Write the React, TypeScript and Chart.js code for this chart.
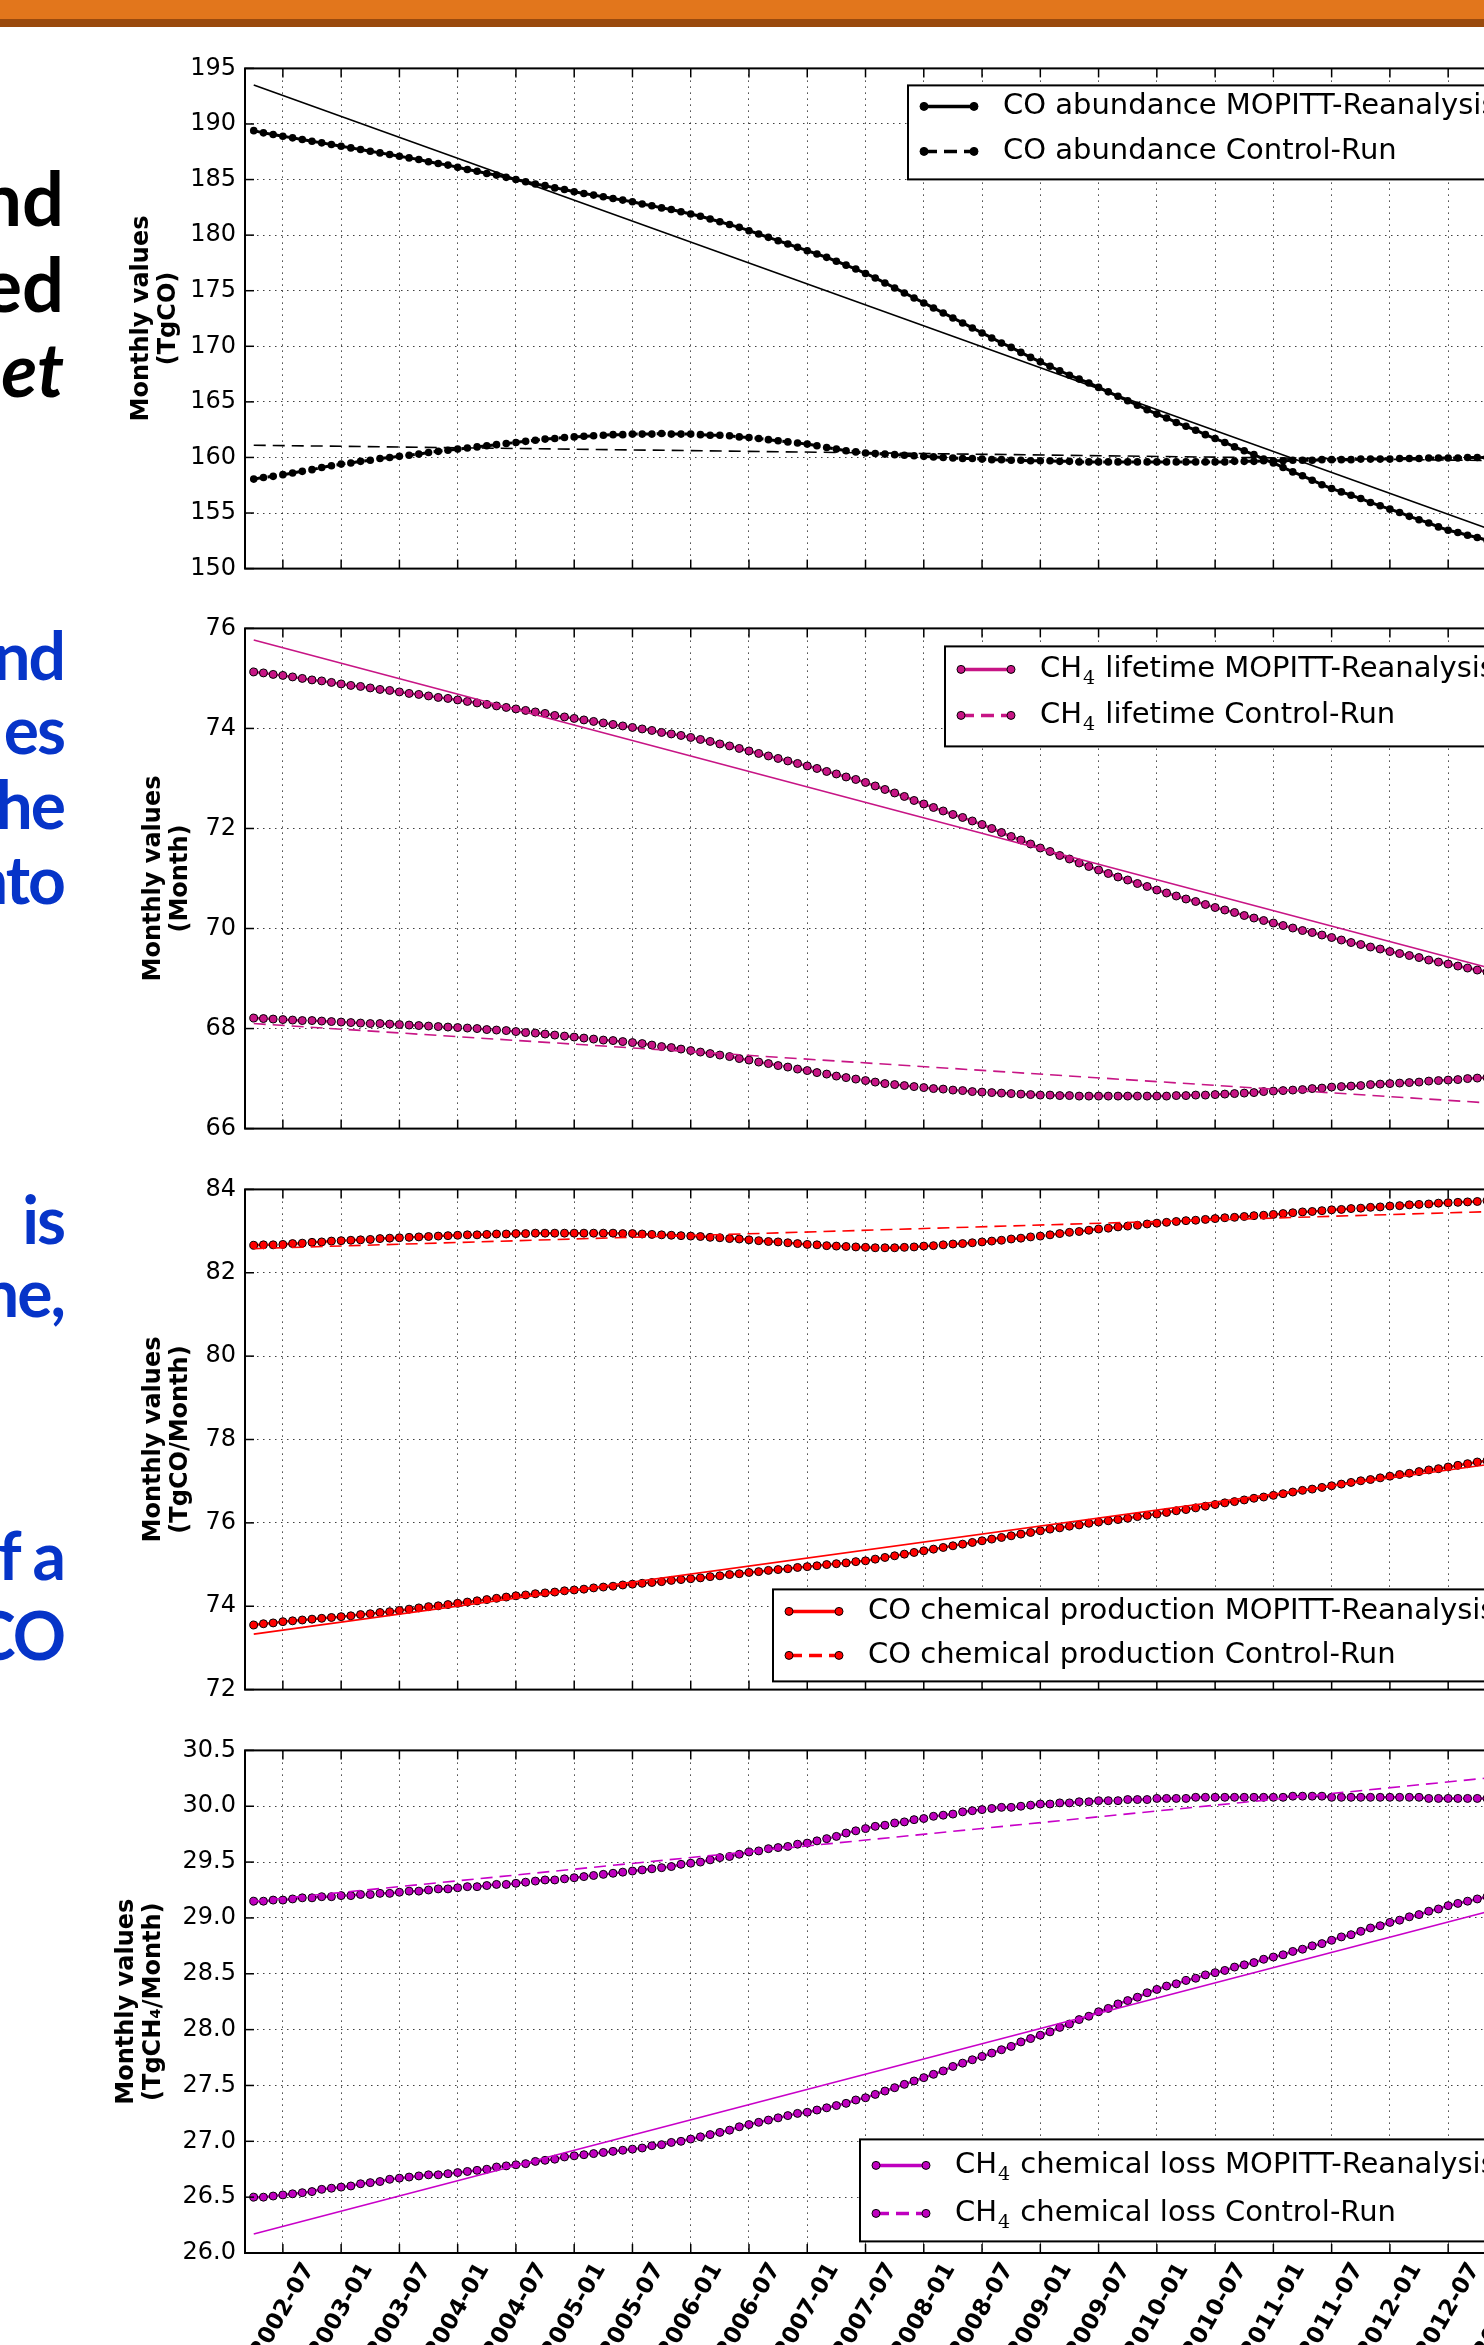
import React, { useEffect, useRef } from "react";
import { Chart, registerables } from "chart.js";

Chart.register(...registerables);
Chart.defaults.font.family = '"DejaVu Sans", sans-serif';

// x values are months counted from 2002-01 (0 = 2002-01)
const START_MONTH = 3; // first monthly value: 2002-04
const X_MIN = 2.1;
const X_MAX = 133.5;
const TICK_MONTHS = [6, 12, 18, 24, 30, 36, 42, 48, 54, 60, 66, 72, 78, 84, 90, 96, 102, 108, 114, 120, 126, 132];
const TICK_LABELS = [
  "2002-07", "2003-01", "2003-07", "2004-01", "2004-07", "2005-01", "2005-07", "2006-01",
  "2006-07", "2007-01", "2007-07", "2008-01", "2008-07", "2009-01", "2009-07", "2010-01",
  "2010-07", "2011-01", "2011-07", "2012-01", "2012-07", "2013-01",
];
const TREND_MONTHS = [3, 132];

// ---- Panel 1: CO abundance (TgCO)
const CO_ABUND_MOPITT = [
  189.4, 189.2, 189.05, 188.9,
  188.75, 188.6, 188.45, 188.3, 188.15, 188.0,
  187.85, 187.7, 187.55, 187.4, 187.25, 187.1,
  186.95, 186.8, 186.6, 186.45, 186.3, 186.1,
  185.9, 185.75, 185.55, 185.4, 185.2, 185.0,
  184.8, 184.6, 184.45, 184.25, 184.1, 183.9,
  183.75, 183.6, 183.45, 183.3, 183.15, 183.0,
  182.8, 182.65, 182.45, 182.3, 182.1, 181.9,
  181.7, 181.45, 181.2, 180.95, 180.7, 180.4,
  180.1, 179.8, 179.5, 179.2, 178.9, 178.6,
  178.3, 178.0, 177.65, 177.3, 176.95, 176.55,
  176.15, 175.7, 175.25, 174.8, 174.35, 173.9,
  173.45, 173.0, 172.55, 172.1, 171.65, 171.2,
  170.75, 170.3, 169.9, 169.45, 169.0, 168.6,
  168.2, 167.8, 167.4, 167.05, 166.7, 166.3,
  165.9, 165.5, 165.1, 164.7, 164.3, 163.9,
  163.55, 163.15, 162.8, 162.45, 162.05, 161.7,
  161.35, 160.95, 160.6, 160.25, 159.85, 159.5,
  159.1, 158.7, 158.35, 157.95, 157.55, 157.2,
  156.9, 156.6, 156.3, 155.95, 155.65, 155.35,
  155.05, 154.7, 154.4, 154.1, 153.75, 153.45,
  153.25, 153.0, 152.8, 152.55, 152.35, 152.1,
];
const CO_ABUND_CONTROL = [
  158.05, 158.2, 158.3, 158.45,
  158.6, 158.75, 158.9, 159.1, 159.25, 159.4,
  159.5, 159.65, 159.75, 159.9, 160.0, 160.1,
  160.2, 160.3, 160.45, 160.55, 160.65, 160.75,
  160.85, 160.95, 161.05, 161.15, 161.25, 161.35,
  161.45, 161.55, 161.65, 161.7, 161.8, 161.85,
  161.9, 161.95, 162.0, 162.05, 162.05, 162.1,
  162.1, 162.1, 162.15, 162.1, 162.1, 162.1,
  162.05, 162.0, 162.0, 161.95, 161.85, 161.8,
  161.7, 161.6, 161.5, 161.4, 161.3, 161.2,
  161.05, 160.9, 160.75, 160.6, 160.5, 160.4,
  160.35, 160.3, 160.25, 160.2, 160.15, 160.1,
  160.05, 160.0, 159.95, 159.9, 159.9, 159.85,
  159.8, 159.8, 159.75, 159.75, 159.7, 159.7,
  159.7, 159.65, 159.65, 159.6, 159.6, 159.6,
  159.6, 159.6, 159.6, 159.6, 159.6, 159.6,
  159.6, 159.6, 159.6, 159.6, 159.6, 159.6,
  159.6, 159.65, 159.65, 159.65, 159.7, 159.7,
  159.7, 159.75, 159.75, 159.75, 159.8, 159.8,
  159.8, 159.8, 159.85, 159.85, 159.85, 159.85,
  159.9, 159.9, 159.9, 159.95, 159.95, 159.95,
  159.95, 160.0, 160.0, 160.0, 160.0, 160.0,
];
const CO_ABUND_MOPITT_TREND = [193.5, 153.0];
const CO_ABUND_CONTROL_TREND = [161.1, 159.7];

// ---- Panel 2: CH4 lifetime (Month)
const CH4_LIFE_MOPITT = [
  75.13, 75.11, 75.08, 75.06,
  75.03, 75.0, 74.97, 74.95, 74.92, 74.89,
  74.86, 74.84, 74.81, 74.78, 74.76, 74.73,
  74.7, 74.68, 74.65, 74.62, 74.6, 74.57,
  74.54, 74.51, 74.48, 74.45, 74.42, 74.39,
  74.36, 74.33, 74.3, 74.26, 74.23, 74.2,
  74.17, 74.14, 74.11, 74.08, 74.05, 74.02,
  73.99, 73.96, 73.92, 73.89, 73.86, 73.82,
  73.78, 73.74, 73.69, 73.65, 73.6, 73.55,
  73.5, 73.45, 73.4, 73.35, 73.3, 73.25,
  73.2, 73.14, 73.09, 73.03, 72.98, 72.92,
  72.85, 72.78, 72.71, 72.64, 72.56, 72.49,
  72.42, 72.35, 72.28, 72.22, 72.15, 72.08,
  72.0, 71.92, 71.84, 71.77, 71.69, 71.61,
  71.54, 71.46, 71.39, 71.31, 71.24, 71.17,
  71.1, 71.03, 70.97, 70.9, 70.84, 70.77,
  70.71, 70.65, 70.59, 70.54, 70.48, 70.42,
  70.37, 70.32, 70.26, 70.21, 70.16, 70.11,
  70.06, 70.01, 69.96, 69.92, 69.87, 69.82,
  69.77, 69.72, 69.68, 69.63, 69.59, 69.54,
  69.5, 69.46, 69.42, 69.37, 69.33, 69.29,
  69.25, 69.21, 69.17, 69.13, 69.1, 69.07,
];
const CH4_LIFE_CONTROL = [
  68.21, 68.2, 68.19, 68.18,
  68.17, 68.16, 68.16, 68.15, 68.14, 68.13,
  68.12, 68.11, 68.1, 68.1, 68.09, 68.08,
  68.07, 68.06, 68.05, 68.04, 68.03, 68.02,
  68.01, 68.0, 67.98, 67.97, 67.96, 67.94,
  67.92, 67.91, 67.89, 67.87, 67.85, 67.83,
  67.81, 67.79, 67.77, 67.76, 67.74, 67.72,
  67.7, 67.67, 67.64, 67.62, 67.59, 67.56,
  67.53, 67.5, 67.47, 67.44, 67.4, 67.37,
  67.33, 67.3, 67.26, 67.23, 67.19, 67.16,
  67.12, 67.09, 67.05, 67.02, 66.99, 66.96,
  66.93, 66.9, 66.88, 66.86, 66.84, 66.82,
  66.8, 66.79, 66.77, 66.76, 66.74, 66.73,
  66.72, 66.71, 66.7, 66.69, 66.68, 66.67,
  66.67, 66.66, 66.66, 66.65, 66.65, 66.65,
  66.65, 66.65, 66.65, 66.65, 66.65, 66.65,
  66.65, 66.66, 66.66, 66.67, 66.67, 66.68,
  66.69, 66.7, 66.71, 66.72, 66.74, 66.75,
  66.76, 66.77, 66.78, 66.8, 66.81, 66.83,
  66.84, 66.85, 66.86, 66.88, 66.89, 66.9,
  66.91, 66.92, 66.93, 66.95, 66.96, 66.97,
  66.98, 67.0, 67.01, 67.02, 67.04, 67.05,
];
const CH4_LIFE_MOPITT_TREND = [75.77, 69.12];
const CH4_LIFE_CONTROL_TREND = [68.1, 66.49];

// ---- Panel 3: CO chemical production (TgCO/Month)
const CO_PROD_MOPITT = [
  73.55, 73.58, 73.6, 73.63,
  73.65, 73.67, 73.69, 73.71, 73.73, 73.75,
  73.77, 73.8, 73.82, 73.85, 73.87, 73.9,
  73.93, 73.96, 73.99, 74.01, 74.04, 74.07,
  74.1, 74.13, 74.16, 74.19, 74.22, 74.25,
  74.27, 74.3, 74.32, 74.34, 74.37, 74.39,
  74.41, 74.44, 74.46, 74.48, 74.51, 74.53,
  74.55, 74.57, 74.59, 74.62, 74.64, 74.66,
  74.68, 74.71, 74.73, 74.76, 74.78, 74.81,
  74.83, 74.86, 74.88, 74.9, 74.93, 74.95,
  74.97, 75.0, 75.02, 75.04, 75.07, 75.09,
  75.13, 75.17, 75.21, 75.25, 75.29, 75.33,
  75.37, 75.41, 75.45, 75.49, 75.53, 75.57,
  75.61, 75.65, 75.69, 75.73, 75.77, 75.81,
  75.85, 75.88, 75.92, 75.95, 75.99, 76.02,
  76.05, 76.08, 76.11, 76.15, 76.18, 76.21,
  76.25, 76.29, 76.32, 76.36, 76.4, 76.44,
  76.48, 76.51, 76.55, 76.59, 76.62, 76.66,
  76.7, 76.74, 76.78, 76.81, 76.85, 76.89,
  76.93, 76.97, 77.01, 77.04, 77.08, 77.12,
  77.16, 77.19, 77.23, 77.27, 77.3, 77.34,
  77.38, 77.42, 77.46, 77.49, 77.53, 77.57,
];
const CO_PROD_CONTROL = [
  82.66, 82.67, 82.67, 82.68,
  82.7, 82.71, 82.73, 82.74, 82.76, 82.77,
  82.78, 82.79, 82.8, 82.82, 82.83, 82.84,
  82.85, 82.86, 82.87, 82.88, 82.89, 82.9,
  82.91, 82.91, 82.92, 82.93, 82.93, 82.94,
  82.94, 82.95, 82.95, 82.95, 82.95, 82.95,
  82.95, 82.95, 82.95, 82.95, 82.94, 82.94,
  82.93, 82.92, 82.91, 82.9, 82.89, 82.88,
  82.87, 82.85, 82.84, 82.82, 82.81, 82.79,
  82.77, 82.75, 82.74, 82.72, 82.7, 82.68,
  82.67, 82.65, 82.64, 82.63, 82.62, 82.61,
  82.6, 82.6, 82.6, 82.61, 82.62, 82.64,
  82.65, 82.67, 82.69, 82.7, 82.72, 82.74,
  82.76, 82.78, 82.81, 82.83, 82.86, 82.88,
  82.91, 82.94, 82.97, 82.99, 83.02, 83.05,
  83.07, 83.1, 83.12, 83.14, 83.17, 83.19,
  83.21, 83.23, 83.25, 83.26, 83.28, 83.3,
  83.32, 83.33, 83.35, 83.37, 83.38, 83.4,
  83.42, 83.44, 83.46, 83.47, 83.49, 83.51,
  83.52, 83.54, 83.55, 83.57, 83.58, 83.6,
  83.61, 83.63, 83.64, 83.65, 83.67, 83.68,
  83.69, 83.7, 83.71, 83.73, 83.74, 83.75,
];
const CO_PROD_MOPITT_TREND = [73.33, 77.46];
const CO_PROD_CONTROL_TREND = [82.58, 83.48];

// ---- Panel 4: CH4 chemical loss (TgCH4/Month)
const CH4_LOSS_MOPITT = [
  26.5, 26.5, 26.51, 26.52,
  26.53, 26.54, 26.55, 26.57, 26.58, 26.59,
  26.6, 26.62, 26.63, 26.64, 26.66, 26.67,
  26.68, 26.69, 26.7, 26.7, 26.71, 26.72,
  26.73, 26.74, 26.75, 26.77, 26.78, 26.79,
  26.8, 26.82, 26.83, 26.84, 26.86, 26.87,
  26.88, 26.89, 26.9, 26.91, 26.92, 26.93,
  26.94, 26.96, 26.97, 26.99, 27.0, 27.02,
  27.04, 27.06, 27.08, 27.1, 27.13, 27.15,
  27.17, 27.19, 27.21, 27.23, 27.25, 27.26,
  27.28, 27.3, 27.32, 27.34, 27.37, 27.39,
  27.42, 27.45, 27.48, 27.51, 27.54, 27.57,
  27.6, 27.63, 27.67, 27.7, 27.73, 27.76,
  27.79, 27.82, 27.85, 27.89, 27.92, 27.95,
  27.98, 28.02, 28.05, 28.09, 28.12, 28.16,
  28.19, 28.23, 28.26, 28.29, 28.33, 28.36,
  28.39, 28.41, 28.44, 28.46, 28.49, 28.51,
  28.53, 28.56, 28.58, 28.6, 28.63, 28.65,
  28.67, 28.7, 28.72, 28.75, 28.77, 28.8,
  28.83, 28.85, 28.88, 28.91, 28.93, 28.96,
  28.98, 29.01, 29.03, 29.06, 29.08, 29.11,
  29.13, 29.15, 29.17, 29.19, 29.21, 29.23,
];
const CH4_LOSS_CONTROL = [
  29.15, 29.15, 29.16, 29.16,
  29.17, 29.18, 29.18, 29.19, 29.19, 29.2,
  29.2, 29.21, 29.21, 29.22, 29.22, 29.23,
  29.24, 29.24, 29.25, 29.26, 29.26, 29.27,
  29.28, 29.28, 29.29, 29.3, 29.3, 29.31,
  29.32, 29.33, 29.34, 29.34, 29.35, 29.36,
  29.37, 29.38, 29.39, 29.4, 29.41, 29.42,
  29.43, 29.44, 29.45, 29.46, 29.48, 29.49,
  29.5, 29.52, 29.54, 29.55, 29.57, 29.59,
  29.6, 29.62, 29.63, 29.64, 29.66, 29.67,
  29.69, 29.71, 29.73, 29.76, 29.78, 29.8,
  29.82, 29.83, 29.85, 29.86, 29.88, 29.89,
  29.91, 29.92, 29.93, 29.95, 29.96, 29.97,
  29.98, 29.99, 29.99, 30.0, 30.01, 30.02,
  30.02, 30.03, 30.03, 30.04, 30.04, 30.05,
  30.05, 30.05, 30.06, 30.06, 30.06, 30.07,
  30.07, 30.07, 30.07, 30.08, 30.08, 30.08,
  30.08, 30.08, 30.08, 30.08, 30.08, 30.08,
  30.08, 30.09, 30.09, 30.09, 30.09, 30.08,
  30.08, 30.08, 30.08, 30.08, 30.08, 30.08,
  30.08, 30.08, 30.08, 30.07, 30.07, 30.07,
  30.07, 30.07, 30.07, 30.07, 30.07, 30.07,
];
const CH4_LOSS_MOPITT_TREND = [26.17, 29.1];
const CH4_LOSS_CONTROL_TREND = [29.15, 30.27];

// ---------------------------------------------------------------
const CANVAS_W = 1541;
const FONT = '"DejaVu Sans", sans-serif';

type Entry = { label: string; color: string; dashed: boolean };
type PanelCfg = {
  plotTop: number;
  plotH: number;
  yMin: number;
  yMax: number;
  yStep: number;
  yDec: number;
  title: string[];
  titleX: number;
  color: string;
  trendColor: string;
  mopitt: number[];
  control: number[];
  mopittTrend: number[];
  controlTrend: number[];
  labels: [string, string];
  legend: { left: number; top: number; height: number; rows: number[] };
  xLabels: boolean;
};

const PANELS: PanelCfg[] = [
  {
    plotTop: 65, plotH: 507, yMin: 150, yMax: 195, yStep: 5, yDec: 0,
    title: ["Monthly values", "(TgCO)"], titleX: 142,
    color: "#000000", trendColor: "#000000",
    mopitt: CO_ABUND_MOPITT, control: CO_ABUND_CONTROL,
    mopittTrend: CO_ABUND_MOPITT_TREND, controlTrend: CO_ABUND_CONTROL_TREND,
    labels: ["CO abundance MOPITT-Reanalysis", "CO abundance Control-Run"],
    legend: { left: 663, top: 17, height: 94, rows: [21, 66] },
    xLabels: false,
  },
  {
    plotTop: 625, plotH: 507, yMin: 66, yMax: 76, yStep: 2, yDec: 0,
    title: ["Monthly values", "(Month)"], titleX: 154,
    color: "#C71585", trendColor: "#C71585",
    mopitt: CH4_LIFE_MOPITT, control: CH4_LIFE_CONTROL,
    mopittTrend: CH4_LIFE_MOPITT_TREND, controlTrend: CH4_LIFE_CONTROL_TREND,
    labels: ["CH₄ lifetime MOPITT-Reanalysis", "CH₄ lifetime Control-Run"],
    legend: { left: 700, top: 18, height: 100, rows: [23, 69] },
    xLabels: false,
  },
  {
    plotTop: 1186, plotH: 507, yMin: 72, yMax: 84, yStep: 2, yDec: 0,
    title: ["Monthly values", "(TgCO/Month)"], titleX: 154,
    color: "#FF0000", trendColor: "#FF0000",
    mopitt: CO_PROD_MOPITT, control: CO_PROD_CONTROL,
    mopittTrend: CO_PROD_MOPITT_TREND, controlTrend: CO_PROD_CONTROL_TREND,
    labels: ["CO chemical production MOPITT-Reanalysis", "CO chemical production Control-Run"],
    legend: { left: 528, top: 400, height: 92, rows: [22, 66] },
    xLabels: false,
  },
  {
    plotTop: 1747, plotH: 506, yMin: 26, yMax: 30.5, yStep: 0.5, yDec: 1,
    title: ["Monthly values", "(TgCH₄/Month)"], titleX: 127,
    color: "#BF00BF", trendColor: "#C800C8",
    mopitt: CH4_LOSS_MOPITT, control: CH4_LOSS_CONTROL,
    mopittTrend: CH4_LOSS_MOPITT_TREND, controlTrend: CH4_LOSS_CONTROL_TREND,
    labels: ["CH₄ chemical loss MOPITT-Reanalysis", "CH₄ chemical loss Control-Run"],
    legend: { left: 615, top: 389, height: 102, rows: [26, 74] },
    xLabels: true,
  },
];

function drawRichLabel(ctx: CanvasRenderingContext2D, text: string, x: number, y: number) {
  const parts = text.split("₄");
  let cx = x;
  ctx.textAlign = "left";
  ctx.textBaseline = "middle";
  parts.forEach((p, i) => {
    ctx.font = `29px ${FONT}`;
    ctx.fillText(p, cx, y);
    cx += ctx.measureText(p).width;
    if (i < parts.length - 1) {
      ctx.font = `19px "DejaVu Serif", serif`;
      ctx.fillText("4", cx + 1, y + 10);
      cx += ctx.measureText("4").width + 2;
    }
  });
}

const mplPlugin = {
  id: "mplFrame",
  afterDraw(chart: any, _args: any, opts: any) {
    const { ctx, chartArea: a, scales } = chart;
    const xs = scales.x;
    const ys = scales.y;
    ctx.save();
    ctx.setLineDash([]);
    ctx.strokeStyle = "#000";
    ctx.lineWidth = 1.5;
    const seg = (x1: number, y1: number, x2: number, y2: number) => {
      ctx.beginPath();
      ctx.moveTo(x1, y1);
      ctx.lineTo(x2, y2);
      ctx.stroke();
    };
    TICK_MONTHS.forEach((m) => {
      const px = xs.getPixelForValue(m);
      seg(px, a.top, px, a.top + 9);
      seg(px, a.bottom, px, a.bottom - 9);
    });
    ys.ticks.forEach((t: any) => {
      const py = ys.getPixelForValue(t.value);
      seg(a.left, py, a.left + 9, py);
      seg(a.right, py, a.right - 9, py);
    });
    ctx.lineWidth = 2;
    ctx.strokeRect(a.left, a.top, a.right - a.left, a.bottom - a.top);

    // legend (matplotlib style box inside the axes)
    const lg = opts.legend;
    const bx = a.left + lg.left;
    const by = a.top + lg.top;
    const bw = a.right - 10 - bx;
    ctx.fillStyle = "#fff";
    ctx.fillRect(bx, by, bw, lg.height);
    ctx.strokeStyle = "#000";
    ctx.lineWidth = 2;
    ctx.strokeRect(bx, by, bw, lg.height);
    (opts.entries as Entry[]).forEach((e, i) => {
      const ry = by + lg.rows[i];
      ctx.strokeStyle = e.color;
      ctx.lineWidth = 3.5;
      ctx.setLineDash(e.dashed ? [13, 7] : []);
      seg(bx + 16, ry, bx + 66, ry);
      ctx.setLineDash([]);
      [bx + 16, bx + 66].forEach((mx) => {
        ctx.beginPath();
        ctx.arc(mx, ry, 4, 0, Math.PI * 2);
        ctx.fillStyle = e.color;
        ctx.fill();
        ctx.lineWidth = 1;
        ctx.strokeStyle = "#000";
        ctx.stroke();
      });
      ctx.fillStyle = "#000";
      drawRichLabel(ctx, e.label, bx + 95, ry);
    });

    // rotated date labels, centred on their ticks
    if (opts.xLabels) {
      ctx.fillStyle = "#000";
      ctx.font = `bold 23px ${FONT}`;
      const ang = Math.PI / 3;
      TICK_MONTHS.forEach((m, i) => {
        const label = TICK_LABELS[i];
        const L = ctx.measureText(label).width;
        const h = 17;
        const bbH = L * Math.sin(ang) + h * Math.cos(ang);
        const cx = xs.getPixelForValue(m);
        const cy = a.bottom + 8 + bbH / 2;
        ctx.save();
        ctx.translate(cx, cy);
        ctx.rotate(-ang);
        ctx.textAlign = "center";
        ctx.textBaseline = "middle";
        ctx.fillText(label, 0, 0);
        ctx.restore();
      });
    }
    ctx.restore();
  },
};

function Panel({ cfg }: { cfg: PanelCfg }) {
  const ref = useRef<HTMLCanvasElement>(null);
  const padTop = 20;
  const xAxisH = cfg.xLabels ? 150 : 0;
  const padBottom = cfg.xLabels ? 0 : 20;
  const H = padTop + cfg.plotH + xAxisH + padBottom;

  useEffect(() => {
    const isBlack = cfg.color === "#000000";
    const toPts = (vals: number[]) => vals.map((v, i) => ({ x: START_MONTH + i, y: v }));
    const trendPts = (vals: number[]) => vals.map((v, i) => ({ x: TREND_MONTHS[i], y: v }));
    const series = (label: string, vals: number[], dashed: boolean) => ({
      label,
      data: toPts(vals),
      borderColor: cfg.color,
      borderWidth: isBlack ? 3 : 2.5,
      borderDash: dashed ? [9, 5] : [],
      pointRadius: isBlack ? 3.8 : 4,
      pointBackgroundColor: cfg.color,
      pointBorderColor: "#000",
      pointBorderWidth: isBlack ? 0 : 1,
      fill: false,
      tension: 0,
      order: 1,
    });
    const trend = (vals: number[], dashed: boolean) => ({
      label: "trend",
      data: trendPts(vals),
      borderColor: cfg.trendColor,
      borderWidth: 1.6,
      borderDash: dashed ? [12, 7] : [],
      pointRadius: 0,
      fill: false,
      order: 0,
    });
    const titleFontSize = 24;
    const titleLH = 1.1;
    const chart = new Chart(ref.current as HTMLCanvasElement, {
      type: "line",
      data: {
        datasets: [
          series(cfg.labels[0], cfg.mopitt, false),
          series(cfg.labels[1], cfg.control, true),
          trend(cfg.mopittTrend, false),
          trend(cfg.controlTrend, true),
        ] as any,
      },
      options: {
        animation: false,
        responsive: false,
        devicePixelRatio: 1,
        events: [],
        layout: { padding: { top: padTop, bottom: padBottom, left: 0, right: 20 } },
        plugins: {
          legend: { display: false },
          tooltip: { enabled: false },
          mplFrame: {
            legend: cfg.legend,
            entries: [
              { label: cfg.labels[0], color: cfg.color, dashed: false },
              { label: cfg.labels[1], color: cfg.color, dashed: true },
            ],
            xLabels: cfg.xLabels,
          },
        } as any,
        scales: {
          x: {
            type: "linear",
            min: X_MIN,
            max: X_MAX,
            afterBuildTicks: (s: any) => {
              s.ticks = TICK_MONTHS.map((v) => ({ value: v }));
            },
            afterFit: (s: any) => {
              s.height = xAxisH;
            },
            ticks: { display: false },
            grid: { color: "rgba(0,0,0,0.75)", lineWidth: 1, drawTicks: false },
            border: { display: false, dash: [1.5, 4.5] },
          },
          y: {
            min: cfg.yMin,
            max: cfg.yMax,
            afterFit: (s: any) => {
              s.width = 245;
            },
            ticks: {
              stepSize: cfg.yStep,
              color: "#000",
              padding: 9,
              font: { family: FONT, size: 24 },
              callback: (v: any) => Number(v).toFixed(cfg.yDec),
            },
            grid: { color: "rgba(0,0,0,0.75)", lineWidth: 1, drawTicks: false },
            border: { display: false, dash: [1.5, 4.5] },
            title: {
              display: true,
              text: cfg.title,
              color: "#000",
              font: { family: FONT, size: titleFontSize, weight: "bold", lineHeight: titleLH },
              padding: { top: cfg.titleX - (titleFontSize * titleLH) / 2, bottom: 0 },
            },
          },
        },
      } as any,
      plugins: [mplPlugin],
    });
    return () => chart.destroy();
  }, []);

  return (
    <canvas
      ref={ref}
      width={CANVAS_W}
      height={H}
      style={{ position: "absolute", left: 0, top: cfg.plotTop - padTop, width: CANVAS_W, height: H }}
    />
  );
}

const SIDE_BLACK = [
  { text: "nd", base: 227, italic: false },
  { text: "ed", base: 313, italic: false },
  { text: "et", base: 398, italic: true },
];
const SIDE_BLUE = [
  { text: "nd", base: 681 },
  { text: "es", base: 755 },
  { text: "he", base: 830 },
  { text: "nto", base: 905 },
  { text: "is", base: 1245 },
  { text: "ne,", base: 1318 },
  { text: "f a", base: 1581 },
  { text: "CO", base: 1661 },
];

export default function App() {
  const sideStyle = (size: number, base: number, color: string, italic = false, spacing = 0): React.CSSProperties => ({
    position: "absolute",
    right: 1484 - 64,
    top: base - size * 0.887,
    fontFamily: "Lato, 'Open Sans', sans-serif",
    fontWeight: 700,
    fontStyle: italic ? "italic" : "normal",
    fontSize: size,
    lineHeight: 1,
    letterSpacing: spacing,
    color,
    whiteSpace: "nowrap",
  });
  return (
    <div
      style={{
        position: "absolute",
        left: 0,
        top: 0,
        width: 1484,
        height: 2345,
        overflow: "hidden",
        background: "#fff",
      }}
    >
      <div style={{ position: "absolute", left: 0, top: 0, width: 1484, height: 19, background: "#E2761C" }} />
      <div style={{ position: "absolute", left: 0, top: 19, width: 1484, height: 8, background: "#9A4A0D" }} />
      {SIDE_BLACK.map((s, i) => (
        <div key={"b" + i} style={sideStyle(74, s.base, "#000", s.italic)}>
          {s.text}
        </div>
      ))}
      {SIDE_BLUE.map((s, i) => (
        <div key={"u" + i} style={sideStyle(66, s.base, "#0634C8", false, -2)}>
          {s.text}
        </div>
      ))}
      {PANELS.map((p, i) => (
        <Panel key={i} cfg={p} />
      ))}
    </div>
  );
}
